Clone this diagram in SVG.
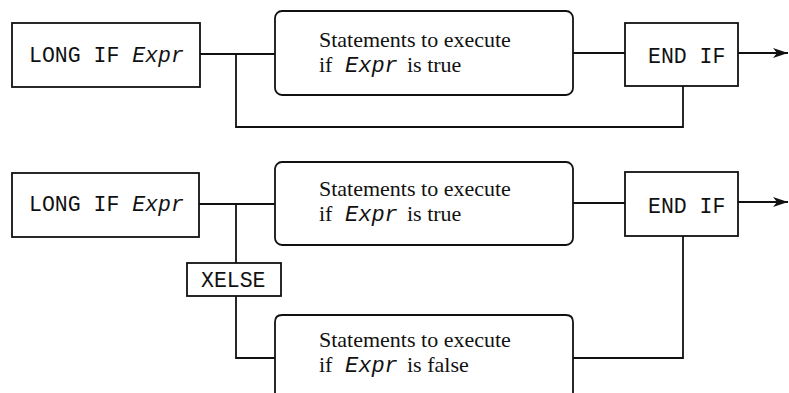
<svg xmlns="http://www.w3.org/2000/svg" width="789" height="393" viewBox="0 0 789 393">
<style>
.box{fill:#fff;stroke:#111;stroke-width:1.8}
.ln{fill:none;stroke:#111;stroke-width:1.8}
.mono{font-family:"Liberation Mono","Courier New",monospace;font-size:21.5px;fill:#111}
.ser{font-family:"Liberation Serif","Times New Roman",serif;font-size:22px;fill:#111}
.it{font-family:"Liberation Mono","Courier New",monospace;font-style:italic;font-size:22px}
</style>
<defs>
<marker id="arr" markerWidth="16" markerHeight="12" refX="15" refY="6" orient="auto" markerUnits="userSpaceOnUse">
<path d="M0,1 L15,6 L0,11 L4,6 Z" fill="#111"/>
</marker>
</defs>
<rect width="789" height="393" fill="#fff"/>
<g id="connectors">
<path class="ln" d="M200,54 H275"/>
<path class="ln" d="M236,54 V127 H683 V86"/>
<path class="ln" d="M573,53 H625"/>
<path class="ln" d="M738,53 H788" marker-end="url(#arr)"/>
<path class="ln" d="M199,204 H275"/>
<path class="ln" d="M236,204 V263"/>
<path class="ln" d="M236,296 V358 H275"/>
<path class="ln" d="M573,203 H625"/>
<path class="ln" d="M738,202 H788" marker-end="url(#arr)"/>
<path class="ln" d="M683,236 V358 H573"/>
</g>
<g id="longif1">
<rect class="box" x="12" y="23" width="188" height="64"/>
<text class="mono" x="29" y="62">LONG IF <tspan font-style="italic">Expr</tspan></text>
</g>
<g id="stmt1">
<rect class="box" x="275" y="11" width="298" height="84" rx="7"/>
<text class="ser" x="319" y="47">Statements to execute</text>
<text class="ser" x="319" y="72">if <tspan class="it" x="345">Expr</tspan><tspan x="407">is true</tspan></text>
</g>
<g id="endif1">
<rect class="box" x="625" y="23" width="113" height="63"/>
<text class="mono" x="648" y="63">END IF</text>
</g>
<g id="longif2">
<rect class="box" x="12" y="173" width="187" height="64"/>
<text class="mono" x="29" y="211">LONG IF <tspan font-style="italic">Expr</tspan></text>
</g>
<g id="stmt2">
<rect class="box" x="275" y="162" width="298" height="83" rx="7"/>
<text class="ser" x="319" y="196">Statements to execute</text>
<text class="ser" x="319" y="221">if <tspan class="it" x="345">Expr</tspan><tspan x="407">is true</tspan></text>
</g>
<g id="xelse">
<rect class="box" x="187" y="263" width="94" height="33"/>
<text class="mono" x="201" y="287">XELSE</text>
</g>
<g id="endif2">
<rect class="box" x="625" y="172" width="113" height="64"/>
<text class="mono" x="648" y="213">END IF</text>
</g>
<g id="stmt3">
<path class="box" d="M275,395 V322 Q275,315 282,315 H566 Q573,315 573,322 V395"/>
<text class="ser" x="319" y="347">Statements to execute</text>
<text class="ser" x="319" y="372">if <tspan class="it" x="345">Expr</tspan><tspan x="407">is false</tspan></text>
</g>
</svg>
